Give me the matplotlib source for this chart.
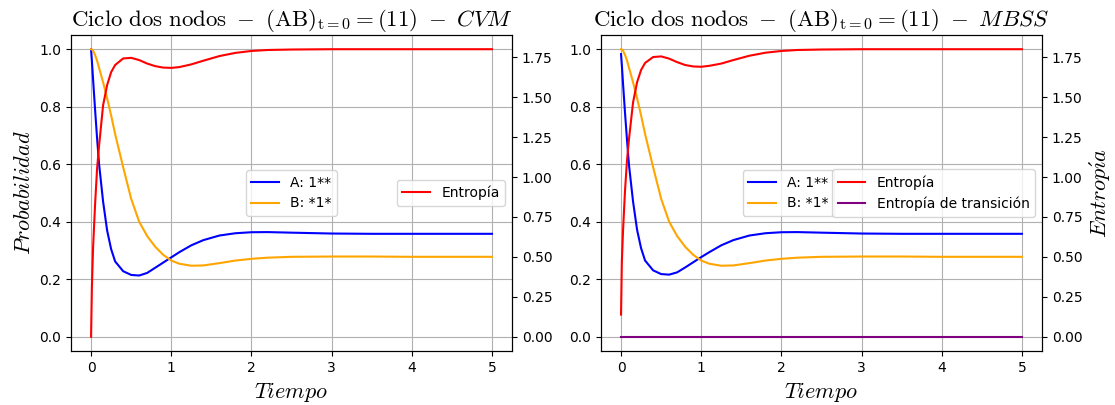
import matplotlib
matplotlib.use("Agg")
import matplotlib.pyplot as plt

plt.rcParams['mathtext.fontset'] = 'cm'

# tiempo común a todas las series
t = [0, 0.01, 0.025, 0.05, 0.075, 0.1, 0.15, 0.2, 0.25, 0.3, 0.4, 0.5, 0.6,
     0.7, 0.8, 0.9, 1.0, 1.1, 1.25, 1.4, 1.6, 1.8, 2.0, 2.2, 2.5, 3.0, 3.5,
     4.0, 4.5, 5.0]

# CVM
a_cvm = [1.0, 0.96, 0.895, 0.79, 0.69, 0.6, 0.47, 0.37, 0.305, 0.262, 0.228,
         0.215, 0.213, 0.222, 0.24, 0.258, 0.276, 0.294, 0.318, 0.336, 0.352,
         0.36, 0.3635, 0.364, 0.362, 0.359, 0.358, 0.358, 0.358, 0.358]
b_cvm = [1.0, 0.999, 0.995, 0.98, 0.96, 0.935, 0.885, 0.83, 0.77, 0.705, 0.59,
         0.48, 0.40, 0.35, 0.313, 0.285, 0.265, 0.254, 0.247, 0.248, 0.256,
         0.265, 0.271, 0.275, 0.278, 0.279, 0.279, 0.278, 0.278, 0.278]
s_cvm = [0.0, 0.306, 0.558, 0.828, 1.053, 1.197, 1.449, 1.575, 1.656, 1.701,
         1.742, 1.746, 1.732, 1.71, 1.694, 1.685, 1.683, 1.688, 1.705, 1.728,
         1.757, 1.777, 1.789, 1.795, 1.798, 1.8, 1.8, 1.8, 1.8, 1.8]

# MBSS
a_mbss = [0.983, 0.945, 0.88, 0.777, 0.682, 0.595, 0.47, 0.372, 0.308, 0.265,
          0.231, 0.218, 0.216, 0.224, 0.241, 0.259, 0.277, 0.294, 0.318,
          0.336, 0.352, 0.36, 0.3635, 0.364, 0.362, 0.359, 0.358, 0.358,
          0.358, 0.358]
b_mbss = [1.0, 0.999, 0.995, 0.98, 0.96, 0.935, 0.885, 0.83, 0.77, 0.705,
          0.59, 0.48, 0.40, 0.35, 0.313, 0.285, 0.265, 0.254, 0.247, 0.248,
          0.256, 0.265, 0.271, 0.275, 0.278, 0.279, 0.279, 0.278, 0.278, 0.278]
s_mbss = [0.139, 0.468, 0.666, 0.918, 1.107, 1.242, 1.467, 1.593, 1.670,
          1.714, 1.751, 1.755, 1.741, 1.719, 1.701, 1.692, 1.690, 1.696,
          1.71, 1.732, 1.759, 1.778, 1.789, 1.795, 1.798, 1.8, 1.8, 1.8, 1.8,
          1.8]
st_mbss = [0.0] * len(t)

fig, axs = plt.subplots(1, 2, figsize=(11.15, 4.05), dpi=100)
fig.subplots_adjust(left=0.0637, right=0.9345, bottom=0.133, top=0.914,
                    wspace=0.2018)

titulo = (r'$\mathrm{Ciclo\ dos\ nodos}\ -\ (\mathrm{AB})_{\mathrm{t=0}}'
          r'=(11)\ -\ \mathit{%s}$')

# panel izquierdo
ax = axs[0]
ax.plot(t, a_cvm, color='blue', label='A: 1**')
ax.plot(t, b_cvm, color='orange', label='B: *1*')
ax.set_ylim(-0.05, 1.05)
ax.grid(True)
ax.legend(loc='center')
ax.set_xlabel(r'$\mathit{Tiempo}$', fontsize=16)
ax.set_ylabel(r'$\mathit{Probabilidad}$', fontsize=16)
ax.set_title(titulo % 'CVM', fontsize=16.5)
ax2 = ax.twinx()
ax2.plot(t, s_cvm, color='red', label='Entropía')
ax2.set_ylim(-0.09, 1.89)
ax2.legend(loc='center right')

# panel derecho
ax = axs[1]
ax.plot(t, a_mbss, color='blue', label='A: 1**')
ax.plot(t, b_mbss, color='orange', label='B: *1*')
ax.set_ylim(-0.05, 1.05)
ax.grid(True)
ax.legend(loc='center', bbox_to_anchor=(0.425, 0.5))
ax.set_xlabel(r'$\mathit{Tiempo}$', fontsize=16)
ax.set_title(titulo % 'MBSS', fontsize=16.5)
ax2 = ax.twinx()
ax2.plot(t, s_mbss, color='red', label='Entropía')
ax2.plot(t, st_mbss, color='purple', label='Entropía de transición')
ax2.set_ylim(-0.09, 1.89)
ax2.set_ylabel(r'$\mathit{Entrop\acute{\imath}a}$', fontsize=16)
ax2.legend(loc='center right')

plt.savefig('out.png')
